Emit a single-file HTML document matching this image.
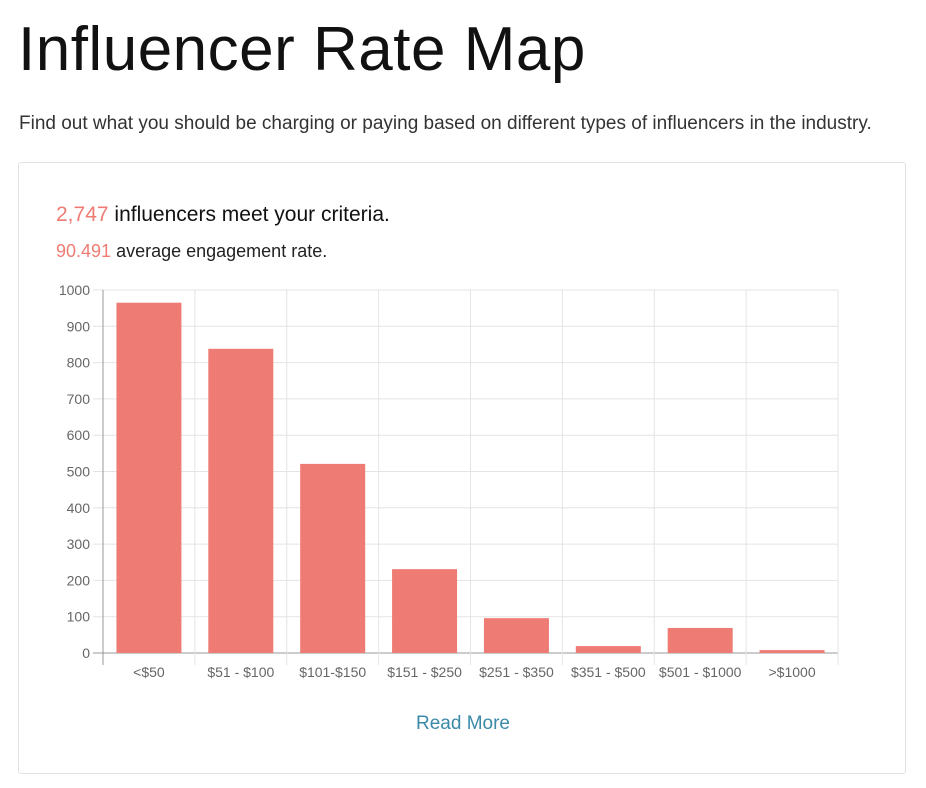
<!DOCTYPE html>
<html><head><meta charset="utf-8"><style>
body{margin:0;background:#fff;font-family:"Liberation Sans",sans-serif;width:926px;height:788px;overflow:hidden;position:relative}
h1{position:absolute;left:18px;top:14px;margin:0;font-size:62px;font-weight:400;color:#111;letter-spacing:0.5px}
.sub{position:absolute;left:19px;top:113px;font-size:19px;color:#333}
.card{position:absolute;left:18px;top:162px;width:888px;height:612px;border:1px solid #e2e2e2;border-radius:3px;box-sizing:border-box}
.l1{position:absolute;left:56px;top:203px;font-size:21px;color:#111}
.l2{position:absolute;left:56px;top:241px;font-size:18px;color:#222}
.red{color:#ee7c74}
.rm{position:absolute;left:0;width:926px;top:713px;text-align:center;font-size:19px;color:#3b8aa8}
svg{position:absolute;left:0;top:0}
</style></head><body>
<h1>Influencer Rate Map</h1>
<div class="sub">Find out what you should be charging or paying based on different types of influencers in the industry.</div>
<div class="card"></div>
<div class="l1"><span class="red">2,747</span> influencers meet your criteria.</div>
<div class="l2"><span class="red">90.491</span> average engagement rate.</div>
<svg width="926" height="788" id="chart"></svg>
<div class="rm">Read More</div>
<script>
const categories=["<$50","$51 - $100","$101-$150","$151 - $250","$251 - $350","$351 - $500","$501 - $1000",">$1000"];
const values=[965,838,521,231,96,19,69,8];
const yTicks=[0,100,200,300,400,500,600,700,800,900,1000];
const svg=document.getElementById('chart');const NS="http://www.w3.org/2000/svg";
const x0=103,x1=838,yBase=653,yTop=290,yMax=1000;
const bw=(x1-x0)/categories.length;
const y=v=>yBase-(v/yMax)*(yBase-yTop);
const xc=i=>x0+bw*(i+0.5);
function mk(t,a){const e=document.createElementNS(NS,t);for(const k in a)e.setAttribute(k,a[k]);svg.appendChild(e);return e;}
yTicks.forEach(t=>{
 const g=mk('line',{x1:x0-10,x2:x1,y1:y(t),y2:y(t),stroke:t===0?'#999':'#e4e4e4'});
 
 
 const tx=mk('text',{x:90,y:y(t)+5,'text-anchor':'end','font-size':14,fill:'#666','font-family':'Liberation Sans'});
 tx.textContent=t;
 
 
});
for(let i=0;i<=categories.length;i++){
 const xx=x0+bw*i;
 const g=mk('line',{x1:xx,x2:xx,y1:yTop,y2:yBase+12,stroke:i===0?'#999':'#e4e4e4'});
 
 
}
categories.forEach((c,i)=>{
 const b=mk('rect',{x:xc(i)-32.5,y:y(values[i]),width:65,height:yBase-y(values[i]),fill:'#ee7c74'});
 
 
 const tx=mk('text',{x:xc(i),y:677,'text-anchor':'middle','font-size':14,fill:'#666','font-family':'Liberation Sans'});
 tx.textContent=c;
 
 
});
</script>
</body></html>
